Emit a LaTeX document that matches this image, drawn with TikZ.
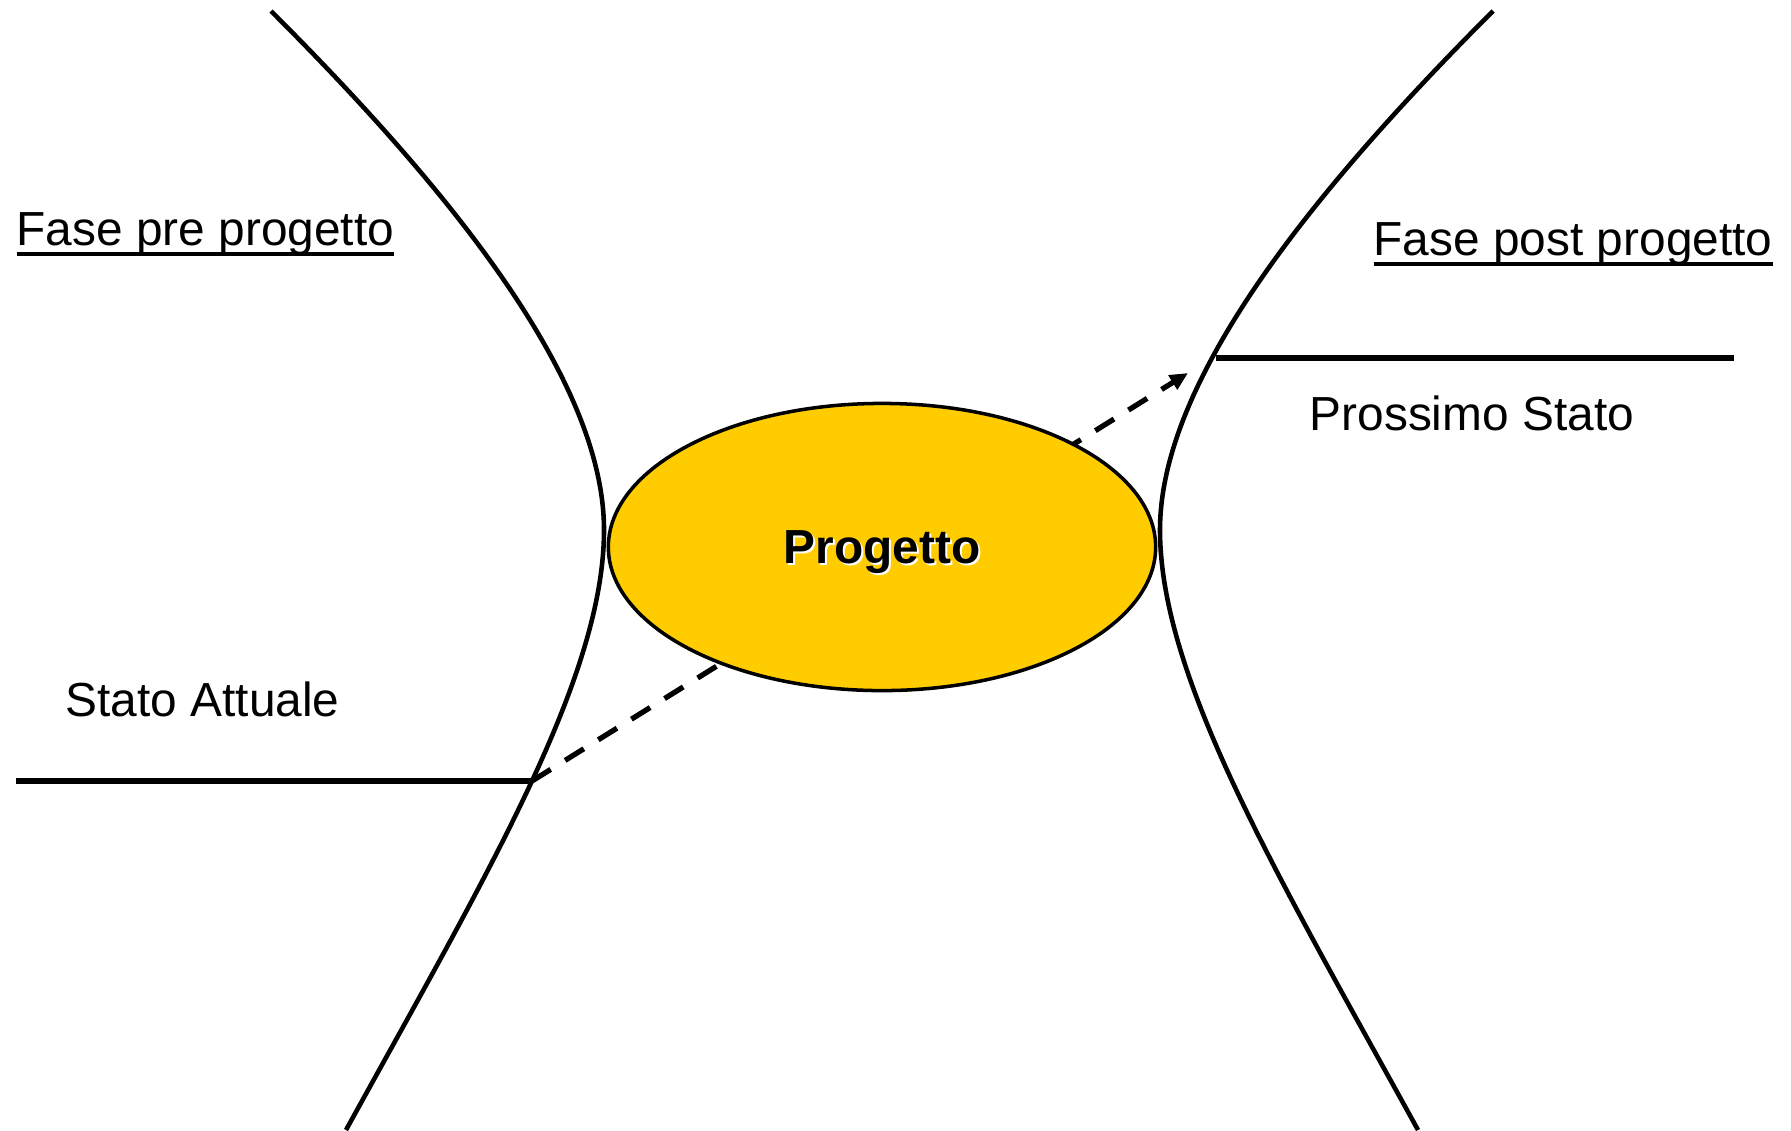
\documentclass[tikz,border=0pt]{standalone}
\usepackage{fontspec}
\setmainfont{Liberation Sans}
\usetikzlibrary{shapes.geometric, arrows.meta}
\definecolor{progettogold}{RGB}{255,204,0}
\newcommand{\sottolinea}[1]{\setbox0\hbox{#1}\rlap{\rule[-0.105cm]{\wd0}{0.035cm}}\box0}
\newcommand{\ombra}[1]{\rlap{\hspace{0.022cm}\raisebox{-0.022cm}{\color{white}#1}}#1}

\begin{document}
\begin{tikzpicture}[x=0.01cm, y=-0.01cm,
    curva/.style={line width=1.3pt},
    soglia/.style={line width=1.5pt},
    etichetta/.style={font=\fontsize{13.6}{16}\selectfont, inner sep=0pt}]
    \useasboundingbox (0,0) rectangle (1791,1130);
    % Curve di confine
    \draw[curva] (271,11) .. controls (451,191) and (604,380) .. (604,530)
        .. controls (604,680) and (483.5,880) .. (346,1130);
    \draw[curva] (1493,11) .. controls (1313,191) and (1160,380) .. (1160,530)
        .. controls (1160,680) and (1280.5,880) .. (1418,1130);

    % Stati
    \coordinate (attuale) at (532,781);
    \coordinate (attualeW) at (16,781);
    \coordinate (prossimo) at (1188,373);
    \coordinate (prossimoW) at (1216,358);
    \coordinate (prossimoE) at (1734,358);
    \draw[soglia] (attualeW) -- (attuale);
    \draw[soglia] (prossimoW) -- (prossimoE);
    \draw[soglia, dash pattern=on 0.22cm off 0.17cm,
        -{Triangle[length=0.18cm, width=0.16cm]}] (attuale) -- (prossimo);

    % Progetto
    \node[ellipse, draw, line width=1pt, fill=progettogold,
        minimum width=5.47cm, minimum height=2.87cm, inner sep=0pt, text depth=0pt,
        font=\fontsize{13.6}{16}\selectfont\bfseries] (progetto) at (882,547) {\ombra{Progetto}};

    % Etichette
    \node[etichetta, anchor=base west] (pre) at (16,245) {\sottolinea{Fase pre progetto}};
    \node[etichetta, anchor=base west] (post) at (1373,255) {\sottolinea{Fase post progetto}};
    \node[etichetta, anchor=base west] (statoA) at (65,716) {Stato Attuale};
    \node[etichetta, anchor=base west] (statoP) at (1309,430) {Prossimo Stato};
\end{tikzpicture}
\end{document}
